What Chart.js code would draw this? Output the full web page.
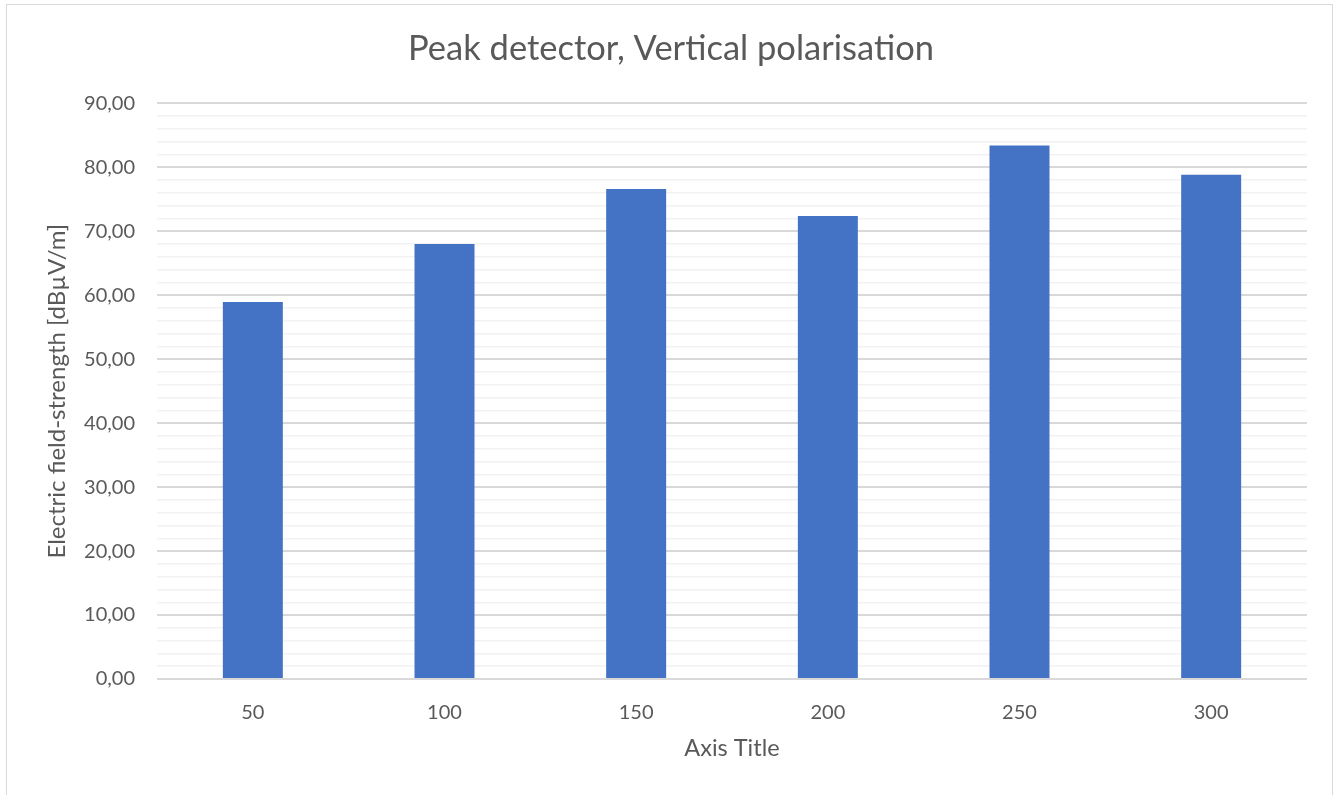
<!DOCTYPE html>
<html>
<head>
<meta charset="utf-8">
<script src="https://cdn.jsdelivr.net/npm/chart.js@4/dist/chart.umd.min.js"></script>
<style>
  html, body { margin: 0; padding: 0; background: #fff; }
  #wrap { position: relative; width: 1336px; height: 795px; overflow: hidden; }
  #frame { position: absolute; left: 6px; top: 4px; width: 1327px; height: 820px; border: 1px solid #d9d9d9; box-sizing: border-box; }
  canvas { position: absolute; left: 0; top: 0; }
</style>
</head>
<body>
<div id="wrap">
  <div id="frame"></div>
  <canvas id="c" width="1336" height="795"></canvas>
</div>
<script>
const categories = ['50', '100', '150', '200', '250', '300'];
const fieldStrength = [58.95, 68.0, 76.6, 72.4, 83.4, 78.85];
const chartTitle = 'Peak detector, Vertical polarisation';
const yAxisTitle = 'Electric field-strength [dBµV/m]';
const xAxisTitle = 'Axis Title';
const yMin = 0, yMax = 90, yMinorStep = 2, yMajorStep = 10;

const FONT = 'Lato, "Open Sans", sans-serif';
const TXT = '#595959';

new Chart(document.getElementById('c'), {
  type: 'bar',
  data: {
    labels: categories,
    datasets: [{
      data: fieldStrength,
      backgroundColor: '#4472c4',
      borderWidth: 0,
      barPercentage: 0.313,
      categoryPercentage: 1.0
    }]
  },
  options: {
    responsive: false,
    animation: false,
    devicePixelRatio: 1,
    layout: { padding: { left: 35, right: 29, top: 0, bottom: 0 } },
    plugins: {
      legend: { display: false },
      tooltip: { enabled: false },
      title: {
        display: true,
        text: chartTitle,
        color: TXT,
        font: { family: FONT, size: 34.5, weight: 'normal', lineHeight: 1.2 },
        padding: { top: 28, bottom: 34 }
      }
    },
    scales: {
      x: {
        grid: { display: false, drawTicks: false },
        border: { display: false },
        ticks: { color: TXT, font: { family: FONT, size: 20 }, padding: 22 },
        title: {
          display: true, text: xAxisTitle, color: TXT,
          font: { family: FONT, size: 23.5, lineHeight: 1.2 },
          padding: { top: 0, bottom: 32 }
        },
        afterFit: s => { s.height = 795 - 679; }
      },
      y: {
        min: yMin, max: yMax,
        grid: {
          drawTicks: false,
          color: ctx => (ctx.tick && ctx.tick.value % yMajorStep === 0) ? '#d9d9d9' : '#f2f2f2',
          lineWidth: ctx => (ctx.tick && ctx.tick.value % yMajorStep === 0) ? 2 : 1.5
        },
        border: { display: false },
        ticks: {
          stepSize: yMinorStep,
          autoSkip: false,
          color: TXT,
          font: { family: FONT, size: 20 },
          padding: 22,
          callback: v => (v % yMajorStep === 0) ? v.toFixed(2).replace('.', ',') : ''
        },
        title: {
          display: true, text: yAxisTitle, color: TXT,
          font: { family: FONT, size: 24, lineHeight: 1.2 },
          padding: { top: 8, bottom: 0 }
        },
        afterFit: s => { s.width = 157 - 35; }
      }
    }
  }
});
</script>
</body>
</html>
